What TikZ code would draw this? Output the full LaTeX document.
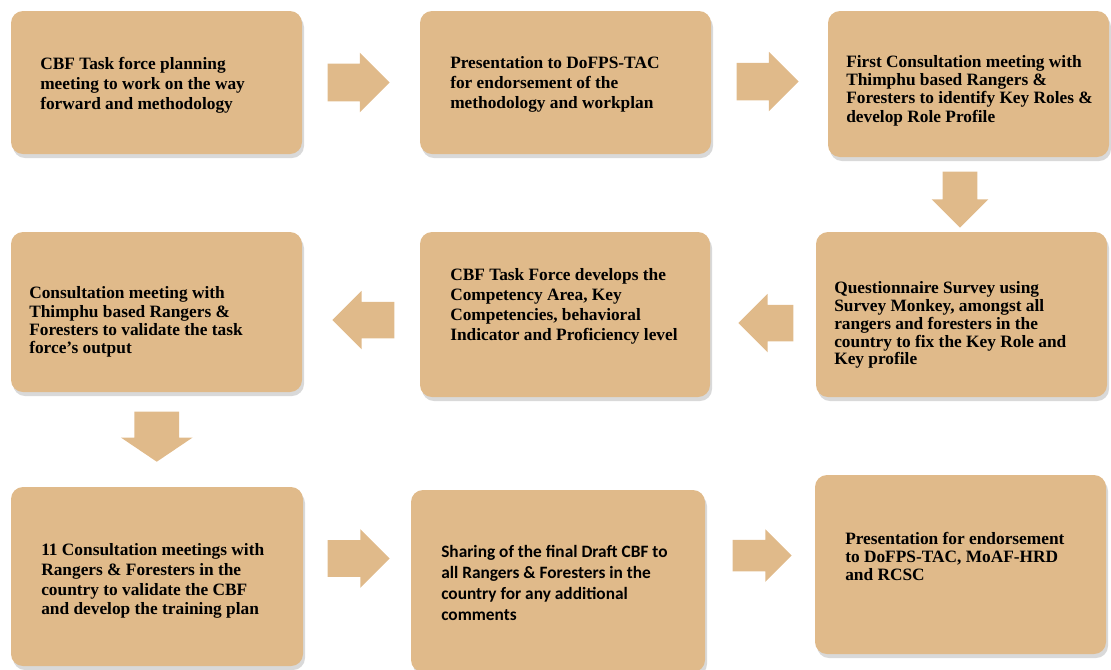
\documentclass[tikz,border=0pt]{standalone}
\usepackage{fontspec}
\setmainfont{Liberation Serif}
\newfontfamily\carlito{Carlito}
\definecolor{tan1}{RGB}{224, 186, 138}
\usepackage{tikz}
\usetikzlibrary{shapes, arrows.meta, positioning, calc, shadows}

\begin{document}
\begin{tikzpicture}[x=0.75pt, y=-0.75pt,
  stepbox/.style={fill=tan1, rounded corners=9pt, minimum width=218.25pt, minimum height=#1, inner sep=0pt,
    drop shadow={shadow xshift=1.5pt, shadow yshift=-3pt, opacity=0.25, fill=black!60}},
  steptext/.style={anchor=north west, align=left, inner sep=0pt, font=\fontsize{13}{#1}\selectfont\bfseries},
  flowarrow/.style={single arrow, fill=tan1, anchor=tip, single arrow head indent=0pt, minimum height=46.5pt,
    minimum width=43.5pt, inner sep=13.5pt, single arrow head extend=8.25pt}]
  \useasboundingbox (0,0) rectangle (1111,669);

  % row 1
  \node[stepbox=107.25pt] (b1) at (156.5,82.5) {};
  \node[stepbox=107.25pt] (b2) at (565.5,82.5) {};
  \node[stepbox=109.5pt, minimum width=210.75pt] (b3) at (968.5,84) {};
  % row 2
  \node[stepbox=123.75pt] (b4) at (961.5,314.5) {};
  \node[stepbox=123.75pt, minimum width=217.5pt] (b5) at (565,314.5) {};
  \node[stepbox=120pt] (b6) at (156.5,312) {};
  % row 3
  \node[stepbox=134.25pt, minimum width=219pt] (b7) at (157,576.5) {};
  \node[stepbox=136.5pt, minimum width=220.5pt] (b8) at (558,581) {};
  \node[stepbox=134.25pt] (b9) at (960.5,564.5) {};

  \node[steptext=15pt] (t1) at (40,57) {CBF Task force planning\\meeting to work on the way\\forward and methodology};
  \node[steptext=15pt] (t2) at (450,56.5) {Presentation to DoFPS-TAC\\for endorsement of the\\methodology and workplan};
  \node[steptext=13.75pt] (t3) at (846,55) {First Consultation meeting with\\Thimphu based Rangers \&\\Foresters to identify Key Roles \&\\develop Role Profile};
  \node[steptext=13.3pt] (t4) at (834,281.5) {Questionnaire Survey using\\Survey Monkey, amongst all\\rangers and foresters in the\\country to fix the Key Role and\\Key profile};
  \node[steptext=15pt] (t5) at (450,268) {CBF Task Force develops the\\Competency Area, Key\\Competencies, behavioral\\Indicator and Proficiency level};
  \node[steptext=13.75pt] (t6) at (29,286.5) {Consultation meeting with\\Thimphu based Rangers \&\\Foresters to validate the task\\force's output};
  \node[steptext=14.75pt] (t7) at (41,543.5) {11 Consultation meetings with\\Rangers \& Foresters in the\\country to validate the CBF\\and develop the training plan};
  \node[steptext=15.75pt, font=\fontsize{13}{15.75}\selectfont\carlito\bfseries] (t8) at (441,545) {Sharing of the final Draft CBF to\\all Rangers \& Foresters in the\\country for any additional\\comments};
  \node[steptext=13.5pt] (t9) at (845,532.5) {Presentation for endorsement\\to DoFPS-TAC, MoAF-HRD\\and RCSC};

  % block arrows, placed by their tips
  \node[flowarrow, minimum width=44.25pt, inner sep=13.875pt, xshift=21.75pt] (a12) at ($(b1.east)!.5!(b2.west)$) {};
  \node[flowarrow, minimum width=44.25pt, inner sep=13.875pt, xshift=22.1pt, yshift=1.3pt] (a23) at ($(b2.east)!.5!(b3.west)$) {};
  \node[flowarrow, shape border rotate=270, minimum height=42pt, minimum width=42pt, inner sep=12.75pt,
    xshift=-3.75pt, yshift=-25.1pt] (a34) at ($(b3.south)!.5!(b4.north)$) {};
  \node[flowarrow, shape border rotate=180, minimum height=41.25pt, xshift=-18.75pt, yshift=-6.4pt] (a45) at ($(b4.west)!.5!(b5.east)$) {};
  \node[flowarrow, shape border rotate=180, xshift=-21.75pt, yshift=-5.1pt] (a56) at ($(b5.west)!.5!(b6.east)$) {};
  \node[flowarrow, shape border rotate=270, minimum height=37.5pt, minimum width=53.25pt, inner xsep=16.5pt, inner ysep=2pt,
    single arrow head extend=10.125pt, single arrow tip angle=112, yshift=-16.9pt] (a67) at ($(b6.south)!.5!(b7.north)$) {};
  \node[flowarrow, xshift=24.75pt, yshift=15.2pt] (a78) at ($(b7.east)!.5!(b8.west)$) {};
  \node[flowarrow, minimum height=44.25pt, minimum width=39pt, inner sep=11.625pt,
    single arrow head extend=7.875pt, xshift=24pt, yshift=12.9pt] (a89) at ($(b8.east)!.5!(b9.west)$) {};
\end{tikzpicture}
\end{document}
